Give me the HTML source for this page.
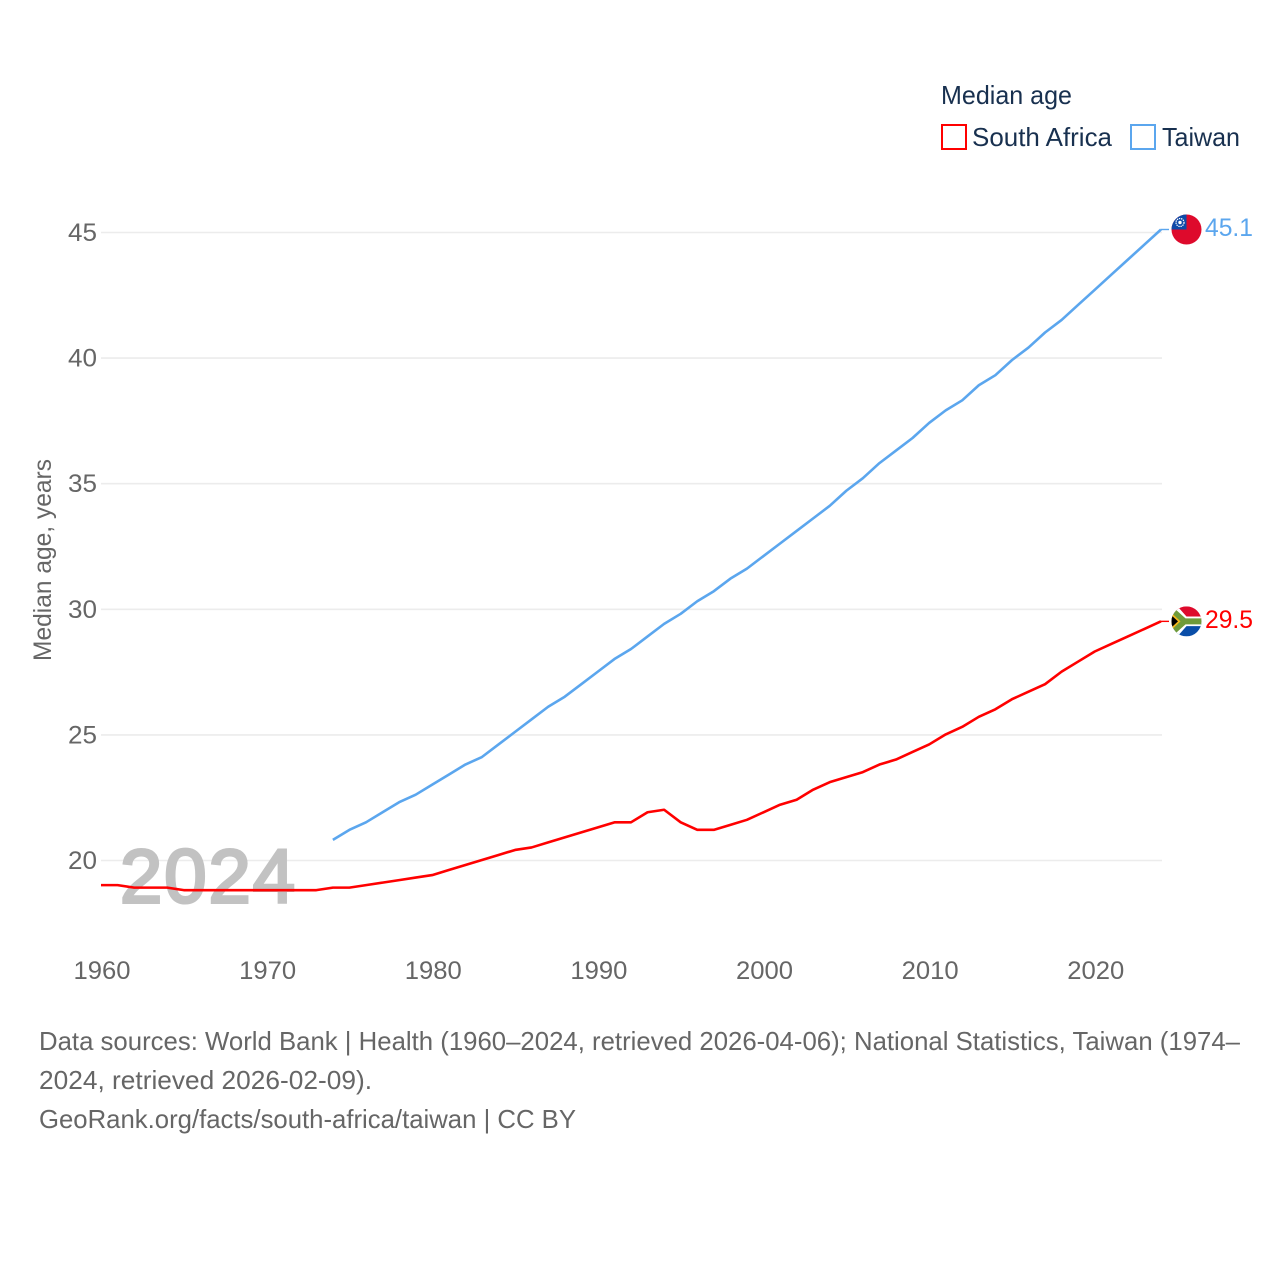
<!DOCTYPE html>
<html lang="en">
<head>
<meta charset="utf-8">
<title>Median age: South Africa and Taiwan</title>
<style>
html,body{margin:0;padding:0;background:#fff;width:1280px;height:1280px;overflow:hidden}
svg{display:block;font-family:"Liberation Sans",sans-serif}
</style>
</head>
<body>
<svg id="chart" xmlns="http://www.w3.org/2000/svg" width="1280" height="1280" viewBox="0 0 1280 1280">
  <defs>
    <clipPath id="flag-clip"><circle cx="0" cy="0" r="15"></circle></clipPath>
  </defs>
  <rect x="0" y="0" width="1280" height="1280" fill="#fff"></rect>
  <g id="grid"></g>
  <text x="120" y="902.5" font-size="76" fill="#c2c2c2" stroke="#c2c2c2" stroke-width="3" textLength="175" lengthAdjust="spacing">2024</text>
  <g id="yticks"></g>
  <g id="xticks"></g>
  <text transform="translate(51,661) rotate(-90)" font-size="25" fill="#666" textLength="202" lengthAdjust="spacingAndGlyphs">Median age, years</text>
  <g id="series"></g>

  <g>
    <text x="941" y="104" font-size="26" fill="#18304f" textLength="131" lengthAdjust="spacingAndGlyphs">Median age</text>
    <g>
      <rect x="942" y="125" width="24" height="24" fill="#fff" stroke="#ff0000" stroke-width="2"></rect>
      <text x="972" y="146" font-size="26" fill="#18304f" textLength="140" lengthAdjust="spacingAndGlyphs">South Africa</text>
    </g>
    <g>
      <rect x="1131" y="125" width="24" height="24" fill="#fff" stroke="#5ba6ee" stroke-width="2"></rect>
      <text x="1162" y="146" font-size="26" fill="#18304f" textLength="78" lengthAdjust="spacingAndGlyphs">Taiwan</text>
    </g>
  </g>

  <g id="flag-taiwan">
    <g clip-path="url(#flag-clip)">
      <rect x="-15" y="-15" width="30" height="30" fill="#de0a2c"></rect>
      <rect x="-15" y="-15" width="15" height="15" fill="#0e4aa8"></rect>
      <circle cx="-6.5" cy="-7" r="4" fill="none" stroke="#fff" stroke-width="1.2" stroke-dasharray="1.4 0.8"></circle>
      <circle cx="-6.5" cy="-7" r="1.7" fill="#fff"></circle>
    </g>
  </g>
  <g id="flag-south-africa">
    <g clip-path="url(#flag-clip)">
      <rect x="-15" y="-15" width="30" height="15" fill="#de0a2c"></rect>
      <rect x="-15" y="0" width="30" height="15" fill="#0a4ea8"></rect>
      <path d="M-15,-15 L-9,-15 L0,-4.8 L15,-4.8 L15,4.8 L0,4.8 L-9,15 L-15,15 Z" fill="#fff"></path>
      <path d="M-15,-12 L-11,-12 L-1,-3 L15,-3 L15,3 L-1,3 L-11,12 L-15,12 Z" fill="#6f9b3a"></path>
      <path d="M-15,-8.5 L-6,0 L-15,8.5 Z" fill="#f5b81c"></path>
      <path d="M-15,-6 L-8.5,0 L-15,6 Z" fill="#000"></path>
    </g>
  </g>
  <g id="endlabels"></g>

  <g font-size="26" fill="#666">
    <text x="39" y="1050" textLength="1201" lengthAdjust="spacingAndGlyphs">Data sources: World Bank | Health (1960–2024, retrieved 2026-04-06); National Statistics, Taiwan (1974–</text>
    <text x="39" y="1089" textLength="333" lengthAdjust="spacingAndGlyphs">2024, retrieved 2026-02-09).</text>
    <text x="39" y="1128" textLength="537" lengthAdjust="spacingAndGlyphs">GeoRank.org/facts/south-africa/taiwan | CC BY</text>
  </g>
</svg>
<script>
const yTicks = [20, 25, 30, 35, 40, 45];
const xTicks = [1960, 1970, 1980, 1990, 2000, 2010, 2020];
const southAfricaYears = [1960,1961,1962,1963,1964,1965,1966,1967,1968,1969,1970,1971,1972,1973,1974,1975,1976,1977,1978,1979,1980,1981,1982,1983,1984,1985,1986,1987,1988,1989,1990,1991,1992,1993,1994,1995,1996,1997,1998,1999,2000,2001,2002,2003,2004,2005,2006,2007,2008,2009,2010,2011,2012,2013,2014,2015,2016,2017,2018,2019,2020,2021,2022,2023,2024];
const southAfricaValues = [19.0,19.0,18.9,18.9,18.9,18.8,18.8,18.8,18.8,18.8,18.8,18.8,18.8,18.8,18.9,18.9,19.0,19.1,19.2,19.3,19.4,19.6,19.8,20.0,20.2,20.4,20.5,20.7,20.9,21.1,21.3,21.5,21.5,21.9,22.0,21.5,21.2,21.2,21.4,21.6,21.9,22.2,22.4,22.8,23.1,23.3,23.5,23.8,24.0,24.3,24.6,25.0,25.3,25.7,26.0,26.4,26.7,27.0,27.5,27.9,28.3,28.6,28.9,29.2,29.5];
const taiwanYears = [1974,1975,1976,1977,1978,1979,1980,1981,1982,1983,1984,1985,1986,1987,1988,1989,1990,1991,1992,1993,1994,1995,1996,1997,1998,1999,2000,2001,2002,2003,2004,2005,2006,2007,2008,2009,2010,2011,2012,2013,2014,2015,2016,2017,2018,2019,2020,2021,2022,2023,2024];
const taiwanValues = [20.8,21.2,21.5,21.9,22.3,22.6,23.0,23.4,23.8,24.1,24.6,25.1,25.6,26.1,26.5,27.0,27.5,28.0,28.4,28.9,29.4,29.8,30.3,30.7,31.2,31.6,32.1,32.6,33.1,33.6,34.1,34.7,35.2,35.8,36.3,36.8,37.4,37.9,38.3,38.9,39.3,39.9,40.4,41.0,41.5,42.1,42.7,43.3,43.9,44.5,45.1];

const NS = 'http://www.w3.org/2000/svg';
const RED = '#ff0000';
const BLUE = '#5ba6ee';
const xScale = function (year) { return 101 + (year - 1960) * (1161 - 101) / 64; };
const yScale = function (v) { return 860 - (v - 20) * (860 - 232) / 25; };

function make(parent, tag, attrs, text) {
  const el = document.createElementNS(NS, tag);
  Object.keys(attrs).forEach(function (k) { el.setAttribute(k, attrs[k]); });
  if (text !== undefined) el.textContent = text;
  parent.appendChild(el);
  return el;
}

const grid = document.getElementById('grid');
const yLayer = document.getElementById('yticks');
yTicks.forEach(function (t) {
  const line = make(grid, 'line', { x1: 101, x2: 1162, y1: yScale(t) + 0.5, y2: yScale(t) + 0.5, stroke: '#ececec', 'stroke-width': 1.6 });
  
  
  const label = make(yLayer, 'text', { x: 97, y: yScale(t) + 9, 'font-size': 25, fill: '#666', 'text-anchor': 'end', textLength: 29, lengthAdjust: 'spacingAndGlyphs' }, String(t));
  
  
});

const xLayer = document.getElementById('xticks');
xTicks.forEach(function (t) {
  const label = make(xLayer, 'text', { x: xScale(t) + 1, y: 979, 'font-size': 25, fill: '#666', 'text-anchor': 'middle', textLength: 57, lengthAdjust: 'spacingAndGlyphs' }, String(t));
  
  
});

const seriesLayer = document.getElementById('series');
function drawSeries(years, values, color, key) {
  const pts = years.map(function (yr, i) { return xScale(yr).toFixed(2) + ',' + yScale(values[i]).toFixed(2); });
  const last = values[values.length - 1];
  const line = make(seriesLayer, 'polyline', { points: pts.join(' '), fill: 'none', stroke: color, 'stroke-width': 2.6, 'stroke-linejoin': 'round' });
  
  
  const lastX = xScale(years[years.length - 1]);
  const conn = make(seriesLayer, 'line', { x1: lastX, x2: lastX + 8, y1: yScale(last), y2: yScale(last), stroke: color, 'stroke-width': 1.4 });
  
  
}
drawSeries(southAfricaYears, southAfricaValues, RED, 'south-africa');
drawSeries(taiwanYears, taiwanValues, BLUE, 'taiwan');

const lastSA = southAfricaValues[southAfricaValues.length - 1];
const lastTW = taiwanValues[taiwanValues.length - 1];
document.getElementById('flag-taiwan').setAttribute('transform', 'translate(1186.5,' + yScale(lastTW) + ')');
document.getElementById('flag-south-africa').setAttribute('transform', 'translate(1186.5,' + yScale(lastSA) + ')');

const endLayer = document.getElementById('endlabels');
const labelTW = make(endLayer, 'text', { x: 1205, y: yScale(lastTW) + 6.5, 'font-size': 25, fill: BLUE, textLength: 48, lengthAdjust: 'spacingAndGlyphs' }, lastTW.toFixed(1));


const labelSA = make(endLayer, 'text', { x: 1205, y: yScale(lastSA) + 6.5, 'font-size': 25, fill: RED, textLength: 48, lengthAdjust: 'spacingAndGlyphs' }, lastSA.toFixed(1));


</script>
</body>
</html>
